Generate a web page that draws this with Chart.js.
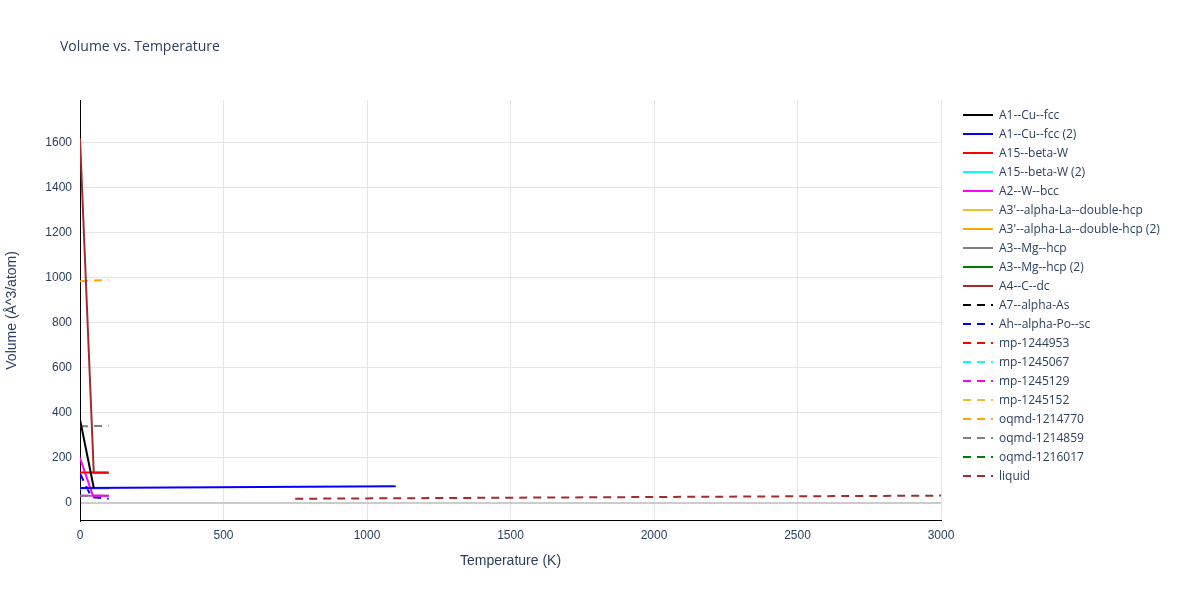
<!DOCTYPE html><html><head><script src="https://cdn.jsdelivr.net/npm/chart.js@4"></script>
<style>body{margin:0;background:#fff;font-family:"Open Sans",sans-serif}#w{position:relative;width:1200px;height:600px}
#lg{position:absolute;left:963px;top:105px;font-size:12px;color:#2a3f5f}#lg div{height:19px;display:flex;align-items:center}#lg svg{margin-right:6px}
#t{position:absolute;left:60px;top:36px;font-size:14px;color:#2a3f5f}</style></head><body><div id="w"><canvas id="c" width="1200" height="600"></canvas><div id="t">Volume vs. Temperature</div><div id="lg"></div></div>
<script>
const names=["A1--Cu--fcc","A1--Cu--fcc (2)","A15--beta-W","A15--beta-W (2)","A2--W--bcc","A3'--alpha-La--double-hcp","A3'--alpha-La--double-hcp (2)","A3--Mg--hcp","A3--Mg--hcp (2)","A4--C--dc","A7--alpha-As","Ah--alpha-Po--sc","mp-1244953","mp-1245067","mp-1245129","mp-1245152","oqmd-1214770","oqmd-1214859","oqmd-1216017","liquid"];
const colors=["#000000","#0000ff","#ff0000","#00ffff","#ff00ff","#ebc034","#ffa500","#808080","#008000","#a52a2a","#000000","#0000ff","#ff0000","#00ffff","#ff00ff","#ebc034","#ffa500","#808080","#008000","#a52a2a"];
const dashed=[0,0,0,0,0,0,0,0,0,0,1,1,1,1,1,1,1,1,1,1];
const xs=[[0,48],[0,1100],[0,100],[],[0,45,100],[0,100],[0,100],[0,100],[],[0,48,100],[],[0,40,100],[],[],[0,100],[0,100],[0,100],[0,100],[],[750,3000]];
const ys=[[370,67],[66,73],[135,135],[],[200,31,31],[65,65],[65,65],[31,31],[],[1620,134,134],[],[130,25,18],[],[],[31,31],[65,65],[985,990],[340,342],[],[18,32]];
const datasets=names.map((n,i)=>({label:n,data:xs[i].map((x,j)=>({x,y:ys[i][j]})),borderColor:colors[i],borderWidth:2,borderDash:dashed[i]?[8,6]:[],pointRadius:0,fill:false,tension:0}));
const lg=document.getElementById('lg');
names.forEach((n,i)=>{lg.innerHTML+=`<div><svg width="30" height="4"><line x1="0" y1="2" x2="30" y2="2" stroke="${colors[i]}" stroke-width="2" ${dashed[i]?'stroke-dasharray="8,6"':''}/></svg>${n}</div>`;});
new Chart(document.getElementById('c'),{type:'line',data:{datasets},options:{responsive:false,animation:false,
layout:{padding:{left:0,right:259,top:100,bottom:26}},plugins:{legend:{display:false},tooltip:{enabled:false}},
scales:{x:{type:'linear',min:0,max:3000,ticks:{stepSize:500,color:'#2a3f5f',font:{size:12},padding:8,callback:v=>String(v)},grid:{color:'#e5e5e5',drawTicks:false},border:{color:'#000'},title:{display:true,text:'Temperature (K)',color:'#2a3f5f',font:{size:14},padding:{top:2}}},
y:{min:-80,max:1790,afterBuildTicks:a=>{a.ticks=a.ticks.filter(t=>t.value%200===0)},ticks:{stepSize:200,color:'#2a3f5f',font:{size:12},padding:8,callback:v=>String(v)},afterFit:a=>{a.width=80},grid:{color:c=>c.tick&&c.tick.value===0?'#cccccc':'#e5e5e5',lineWidth:c=>c.tick&&c.tick.value===0?2:1,drawTicks:false},border:{color:'#000'},title:{display:true,text:'Volume (Å^3/atom)',color:'#2a3f5f',font:{size:14}}}}}});
</script></body></html>
